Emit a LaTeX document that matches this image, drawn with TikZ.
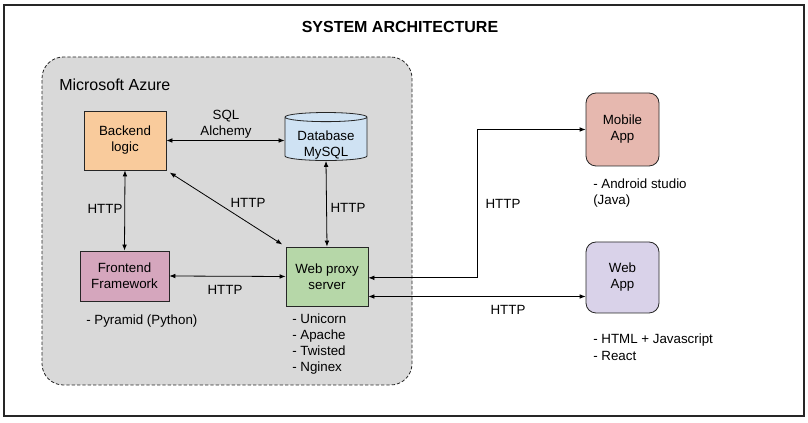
\documentclass[tikz,border=0pt]{standalone}
\usepackage{fontspec}
\setmainfont{Liberation Sans}
\usetikzlibrary{shapes.geometric,arrows.meta}
\definecolor{azuregray}{HTML}{D9D9D9}
\definecolor{backendfill}{HTML}{F9CB9C}
\definecolor{dbfill}{HTML}{CFE2F3}
\definecolor{frontendfill}{HTML}{D5A6BD}
\definecolor{proxyfill}{HTML}{B6D7A8}
\definecolor{mobilefill}{HTML}{E6B8AF}
\definecolor{webfill}{HTML}{D9D2E9}
\tikzstyle{every node}=[font=\fontsize{10}{12}\selectfont,inner sep=0pt]
\tikzstyle{box}=[draw=black!85,line width=0.6pt,align=center,minimum width=61.5pt,minimum height=44.25pt]
\tikzstyle{app}=[box,rounded corners=7.5pt,minimum width=54.75pt]
\tikzstyle{note}=[align=left,anchor=north west]
\tikzstyle{link}=[{Latex[length=4.5pt,width=3.5pt]}-{Latex[length=4.5pt,width=3.5pt]},line width=0.6pt]

\begin{document}
\begin{tikzpicture}[x=0.75pt, y=-0.75pt]
	\useasboundingbox (0,0) rectangle (808,423);
	\draw [line width=0.8pt,black!85] (4,5) rectangle (804,416);
	\node (title) at (400,27) [font=\fontsize{12}{14}\selectfont\bfseries] {SYSTEM ARCHITECTURE};
	% cloud container
	\node (azure) at (227,221) [draw=black!85,line width=0.6pt,dash pattern=on 2.5pt off 1.5pt,fill=azuregray,rounded corners=16pt,minimum width=277.5pt,minimum height=246pt] {};
	\node (azurename) at (59,85) [anchor=west,font=\fontsize{12}{14}\selectfont] {Microsoft Azure};
	% services
	\node (backend) at (125,140.5) [box,fill=backendfill] {Backend\\logic};
	\node (db) at (326,139) [box,fill=dbfill,cylinder,shape border rotate=90,aspect=0.16,minimum width=61.5pt,minimum height=36pt] {\raisebox{-4.5pt}[14.5pt][9.5pt]{\begin{tabular}{@{}c@{}}Database\\MySQL\end{tabular}}};
	\node (frontend) at (124.5,276) [box,fill=frontendfill,minimum width=66.75pt,minimum height=37.5pt] {Frontend\\Framework};
	\node (proxy) at (327,276.5) [box,fill=proxyfill] {Web proxy\\server};
	\node (mobile) at (622.5,129.5) [app,fill=mobilefill,minimum height=54.75pt] {Mobile\\App};
	\node (webapp) at (622.5,277.5) [app,fill=webfill,minimum height=53.25pt] {Web\\App};
	% notes
	\node (pyramid) at (86,321) [anchor=west] {- Pyramid (Python)};
	\node (servers) at (292,314) [note] {- Unicorn\\- Apache\\- Twisted\\- Nginex};
	\node (android) at (593,179) [note,font=\fontsize{10}{11.5}\selectfont] {- Android studio\\(Java)};
	\node (html) at (593,334) [note,font=\fontsize{10}{12.5}\selectfont] {- HTML + Javascript\\- React};
	% links
	\draw [link] (backend.east) -- (backend.east -| db.west);
	\draw [link] (backend.south) -- (frontend.north);
	\draw [link,shorten <=3pt,shorten >=3pt] (backend.south east) -- (proxy.north west);
	\draw [link] (db.south) -- (proxy.north);
	\draw [link] (frontend.east) -- (proxy.west);
	\draw [link] ([yshift=-1pt]proxy.east) -- ++(109,0) |- (mobile.west);
	\draw [link] ([yshift=-15pt]proxy.east) -- ([yshift=-15pt]proxy.east -| webapp.west);
	% link labels
	\node (sqlalchemy) at (226,124.5) [align=center] {SQL\\Alchemy};
	\node (http1) at (105,209) {HTTP};
	\node (http2) at (248,203) {HTTP};
	\node (http3) at (348,208) {HTTP};
	\node (http4) at (225,290) {HTTP};
	\node (http5) at (503,204) {HTTP};
	\node (http6) at (508,310) {HTTP};
\end{tikzpicture}
\end{document}
